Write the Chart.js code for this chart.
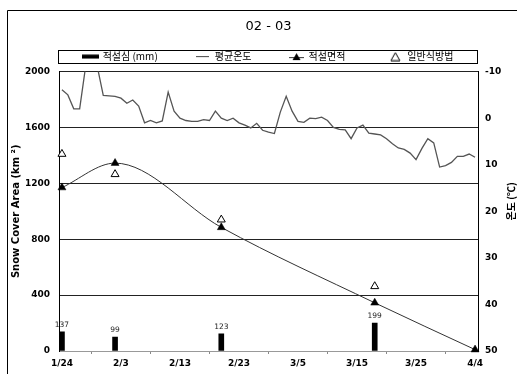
<!DOCTYPE html>
<html>
<head>
<meta charset="utf-8">
<script src="https://cdn.jsdelivr.net/npm/chart.js@4/dist/chart.umd.min.js"></script>
<style>
  html, body { margin: 0; padding: 0; background: #fff; }
  #wrap { width: 517px; height: 374px; }
</style>
</head>
<body>
<div id="wrap"><canvas id="chart"></canvas></div>
<script>
// days 1/24 .. 4/4 (2003)
const days = [
  "1/24", "1/25", "1/26", "1/27", "1/28", "1/29", "1/30", "1/31",
  "2/1", "2/2", "2/3", "2/4", "2/5", "2/6", "2/7", "2/8", "2/9", "2/10",
  "2/11", "2/12", "2/13", "2/14", "2/15", "2/16", "2/17", "2/18", "2/19", "2/20",
  "2/21", "2/22", "2/23", "2/24", "2/25", "2/26", "2/27", "2/28",
  "3/1", "3/2", "3/3", "3/4", "3/5", "3/6", "3/7", "3/8", "3/9", "3/10",
  "3/11", "3/12", "3/13", "3/14", "3/15", "3/16", "3/17", "3/18", "3/19", "3/20",
  "3/21", "3/22", "3/23", "3/24", "3/25", "3/26", "3/27", "3/28", "3/29", "3/30",
  "3/31", "4/1", "4/2", "4/3", "4/4",
];
// 평균온도 (℃), one per day
const temperature = [
  -6.1, -5.0, -2.0, -2.0, -11.0, -12.5, -11.0, -4.9, -4.8, -4.7,
  -4.3, -3.2, -3.9, -2.6, 1.0, 0.5, 1.0, 0.6, -5.6, -1.5,
  0.0, 0.5, 0.7, 0.7, 0.3, 0.5, -1.5, 0.0, 0.5, 0.0,
  1.0, 1.5, 2.1, 1.1, 2.6, 3.0, 3.3, -1.3, -4.7, -1.5,
  0.7, 0.9, 0.0, 0.1, -0.2, 0.5, 2.0, 2.4, 2.5, 4.4,
  2.1, 1.5, 3.2, 3.4, 3.6, 4.4, 5.5, 6.4, 6.7, 7.5,
  8.9, 6.5, 4.4, 5.3, 10.5, 10.2, 9.5, 8.2, 8.2, 7.7, 8.4,
];
// 적설심 (mm)
const depthDays = ["1/24", "2/2", "2/20", "3/18"];
const depthValues = [137, 99, 123, 199];
// 적설면적 (km²)
const areaDays = ["1/24", "2/2", "2/20", "3/18", "4/4"];
const areaValues = [1170, 1345, 885, 345, 10];
// 일반식방법 (km²)
const formulaDays = ["1/24", "2/2", "2/20", "3/18"];
const formulaValues = [1410, 1265, 940, 463];

const areaTicks = [0, 400, 800, 1200, 1600, 2000];
const tempTicks = [-10, 0, 10, 20, 30, 40, 50];

const tickFont = { family: "DejaVu Sans", size: 9, weight: "bold" };
const krFont = "'Noto Sans CJK KR', 'Noto Sans', sans-serif";

// legend icons
function makeIcon(w, h, draw) {
  const c = document.createElement("canvas");
  c.width = w;
  c.height = h;
  draw(c.getContext("2d"));
  return c;
}
const iconBar = makeIcon(17, 5, (g) => {
  g.fillStyle = "#000";
  g.fillRect(0, 0.5, 17, 4);
});
const iconLine = makeIcon(13, 5, (g) => {
  g.strokeStyle = "#444";
  g.lineWidth = 1;
  g.beginPath();
  g.moveTo(0, 2.5);
  g.lineTo(13, 2.5);
  g.stroke();
});
const iconTri = makeIcon(15, 9, (g) => {
  g.strokeStyle = "#333";
  g.lineWidth = 1;
  g.beginPath();
  g.moveTo(0, 5.5);
  g.lineTo(15, 5.5);
  g.stroke();
  g.fillStyle = "#000";
  g.beginPath();
  g.moveTo(7.5, 1);
  g.lineTo(11.5, 8);
  g.lineTo(3.5, 8);
  g.closePath();
  g.fill();
});
const iconOpen = makeIcon(11, 10, (g) => {
  g.fillStyle = "#fff";
  g.strokeStyle = "#000";
  g.lineWidth = 1;
  g.beginPath();
  g.moveTo(5.5, 1);
  g.lineTo(10, 9);
  g.lineTo(1, 9);
  g.closePath();
  g.fill();
  g.stroke();
});
const legendIcons = [iconBar, iconLine, iconTri, iconOpen];
// trailing gap after each legend entry (en spaces)
const legendGaps = [6, 6, 7, 0];

// frame, legend box, bar labels, right axis title
const decorPlugin = {
  id: "decor",
  beforeDraw(chart) {
    const ctx = chart.ctx;
    ctx.save();
    ctx.fillStyle = "#fff";
    ctx.fillRect(0, 0, chart.width, chart.height);
    ctx.strokeStyle = "#000";
    ctx.lineWidth = 1;
    ctx.beginPath();
    ctx.moveTo(7.5, chart.height);
    ctx.lineTo(7.5, 10.5);
    ctx.lineTo(chart.width, 10.5);
    ctx.stroke();
    ctx.restore();
  },
  afterDraw(chart) {
    const ctx = chart.ctx;
    const area = chart.chartArea;
    ctx.save();
    // legend border
    const boxes = chart.legend.legendHitBoxes;
    if (boxes && boxes.length) {
      const mid = boxes[0].top + boxes[0].height / 2;
      const top = Math.round(mid - 7) + 0.5;
      const bottom = Math.round(mid + 6) + 0.5;
      ctx.strokeStyle = "#000";
      ctx.lineWidth = 1;
      ctx.strokeRect(area.left - 0.5, top, area.right - area.left, bottom - top);
    }
    // bar value labels
    const meta = chart.getDatasetMeta(0);
    ctx.fillStyle = "#222";
    ctx.font = "7.5px 'DejaVu Sans'";
    ctx.textAlign = "center";
    ctx.textBaseline = "bottom";
    meta.data.forEach((bar, i) => {
      ctx.fillText(String(depthValues[i]), bar.x, bar.y - 3);
    });
    // right axis title, read bottom to top
    ctx.translate(511, (area.top + area.bottom) / 2 - 10);
    ctx.rotate(-Math.PI / 2);
    ctx.fillStyle = "#000";
    ctx.font = "bold 10px " + krFont;
    ctx.textBaseline = "middle";
    ctx.fillText("온도 (℃)", 0, 0);
    ctx.restore();
  },
};

const ctx = document.getElementById("chart");
new Chart(ctx, {
  type: "bar",
  data: {
    labels: days,
    datasets: [
      {
        type: "bar",
        label: "적설심 (mm)",
        data: depthDays.map((d, i) => ({ x: d, y: depthValues[i] })),
        backgroundColor: "#000",
        barThickness: 5,
        yAxisID: "y",
        order: 4,
      },
      {
        type: "line",
        label: "평균온도",
        data: temperature,
        borderColor: "#555",
        borderWidth: 1.3,
        pointRadius: 0,
        tension: 0,
        yAxisID: "y1",
        order: 3,
      },
      {
        type: "line",
        label: "적설면적",
        data: areaDays.map((d, i) => ({ x: d, y: areaValues[i] })),
        borderColor: "#333",
        borderWidth: 1,
        cubicInterpolationMode: "monotone",
        pointStyle: "triangle",
        pointRadius: 4.6,
        pointBackgroundColor: "#000",
        pointBorderColor: "#000",
        pointBorderWidth: 0.5,
        yAxisID: "y",
        order: 1,
        clip: false,
      },
      {
        type: "line",
        label: "일반식방법",
        data: formulaDays.map((d, i) => ({ x: d, y: formulaValues[i] })),
        showLine: false,
        pointStyle: "triangle",
        pointRadius: 4.6,
        pointBackgroundColor: "#fff",
        pointBorderColor: "#000",
        pointBorderWidth: 1,
        yAxisID: "y",
        order: 2,
        clip: false,
      },
    ],
  },
  options: {
    responsive: true,
    maintainAspectRatio: false,
    animation: false,
    events: [],
    layout: { padding: { top: 0, right: 0, bottom: 0, left: 20 } },
    plugins: {
      title: {
        display: true,
        text: "02 - 03",
        color: "#000",
        font: { family: "DejaVu Sans", size: 13, weight: "normal" },
        padding: { top: 19, bottom: 9 },
      },
      legend: {
        display: true,
        position: "top",
        labels: {
          color: "#000",
          font: { family: krFont, size: 10 },
          usePointStyle: true,
          pointStyleWidth: 14,
          padding: 8,
          sort: (a, b) => a.datasetIndex - b.datasetIndex,
          generateLabels(chart) {
            const items = Chart.defaults.plugins.legend.labels.generateLabels(chart);
            items.forEach((it) => {
              it.pointStyle = legendIcons[it.datasetIndex];
              it.fontColor = "#000";
              it.text = it.text + "\u2002".repeat(legendGaps[it.datasetIndex]);
            });
            return items;
          },
        },
      },
      tooltip: { enabled: false },
    },
    scales: {
      x: {
        type: "category",
        offset: true,
        grid: {
          offset: true,
          drawOnChartArea: false,
          drawTicks: true,
          tickLength: 3,
          color: "#888",
        },
        border: { color: "#999", width: 1 },
        ticks: {
          autoSkip: false,
          maxRotation: 0,
          color: "#000",
          font: tickFont,
          padding: 4,
          callback(value, index) {
            return index % 10 === 0 ? days[index] : null;
          },
        },
        afterFit(scale) {
          scale.height = 23;
        },
      },
      y: {
        position: "left",
        min: 0,
        max: 2000,
        afterBuildTicks(scale) {
          scale.ticks = areaTicks.map((v) => ({ value: v }));
        },
        grid: {
          drawTicks: false,
          color: (c) => (c.tick && c.tick.value === 0 ? "rgba(0,0,0,0)" : "#222"),
        },
        border: { color: "#000", width: 1 },
        ticks: {
          color: "#000",
          font: tickFont,
          padding: 9,
          callback: (v) => String(v),
        },
        title: {
          display: true,
          text: "Snow Cover Area (km ²)",
          color: "#000",
          font: { family: "DejaVu Sans", size: 10, weight: "bold" },
          padding: { top: -10, bottom: 0 },
        },
        afterFit(scale) {
          scale.width = 39;
        },
      },
      y1: {
        position: "right",
        reverse: true,
        min: -10,
        max: 50,
        afterBuildTicks(scale) {
          scale.ticks = tempTicks.map((v) => ({ value: v }));
        },
        grid: { drawOnChartArea: false, drawTicks: false },
        border: { color: "#000", width: 1 },
        ticks: {
          color: "#000",
          font: tickFont,
          padding: 7,
          callback: (v) => String(v),
        },
        afterFit(scale) {
          scale.width = 39;
        },
      },
    },
  },
  plugins: [decorPlugin],
});
</script>
</body>
</html>
